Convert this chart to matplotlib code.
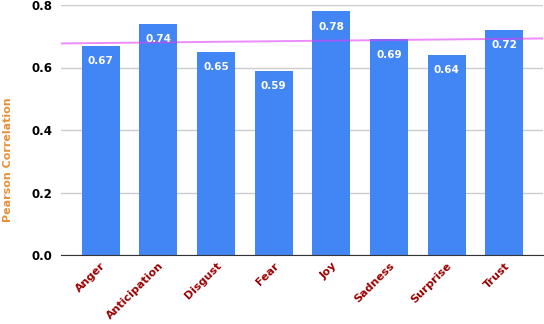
import numpy as np
import matplotlib
matplotlib.use("Agg")
import matplotlib.pyplot as plt

emotions = ["Anger", "Anticipation", "Disgust", "Fear", "Joy", "Sadness", "Surprise", "Trust"]
pearson = [0.67, 0.74, 0.65, 0.59, 0.78, 0.69, 0.64, 0.72]
yticks = [0.0, 0.2, 0.4, 0.6, 0.8]

fig = plt.figure(figsize=(5.44, 3.24), dpi=100)
ax = fig.add_axes([61/544, 1-255/324, 482/544, 250/324])

x = np.arange(len(emotions))
bars = ax.bar(x, pearson, width=0.66, color="#4285f4", zorder=2)

for b, v in zip(bars, pearson):
    ax.annotate(f"{v:.2f}", (b.get_x() + b.get_width()/2, v), xytext=(0, -11),
                textcoords="offset points", ha="center", va="center",
                color="white", fontsize=7.5, fontweight="bold", zorder=4)

# linear trendline over the bars
xlim = (-0.69, 7.67)
coef = np.polyfit(x, pearson, 1)
xt = np.array(xlim)
ax.plot(xt, np.polyval(coef, xt), color="#e040fb", alpha=0.6, lw=1.4, zorder=3)

ax.set_xlim(*xlim)
ax.set_ylim(0, 0.8)
ax.set_yticks(yticks)
ax.set_yticklabels([f"{t:.1f}" for t in yticks], fontsize=8.5, fontweight="bold")
ax.set_xticks(x)
ax.set_xticklabels(emotions, rotation=45, ha="right", rotation_mode="anchor",
                   fontsize=8, fontweight="bold", color="#990000")
ax.tick_params(length=0, pad=6)
ax.tick_params(axis="x", pad=4)
ax.yaxis.grid(True, color="#cccccc", lw=1, zorder=0)
for s in ["top", "right", "left"]:
    ax.spines[s].set_visible(False)
ax.spines["bottom"].set_color("#333333")
ax.spines["bottom"].set_zorder(5)

fig.text(8/544, 1-160/324, "Pearson Correlation", rotation=90, ha="center", va="center",
         color="#e69138", fontsize=8, fontweight="bold")

fig.savefig("out.png", dpi=100)
